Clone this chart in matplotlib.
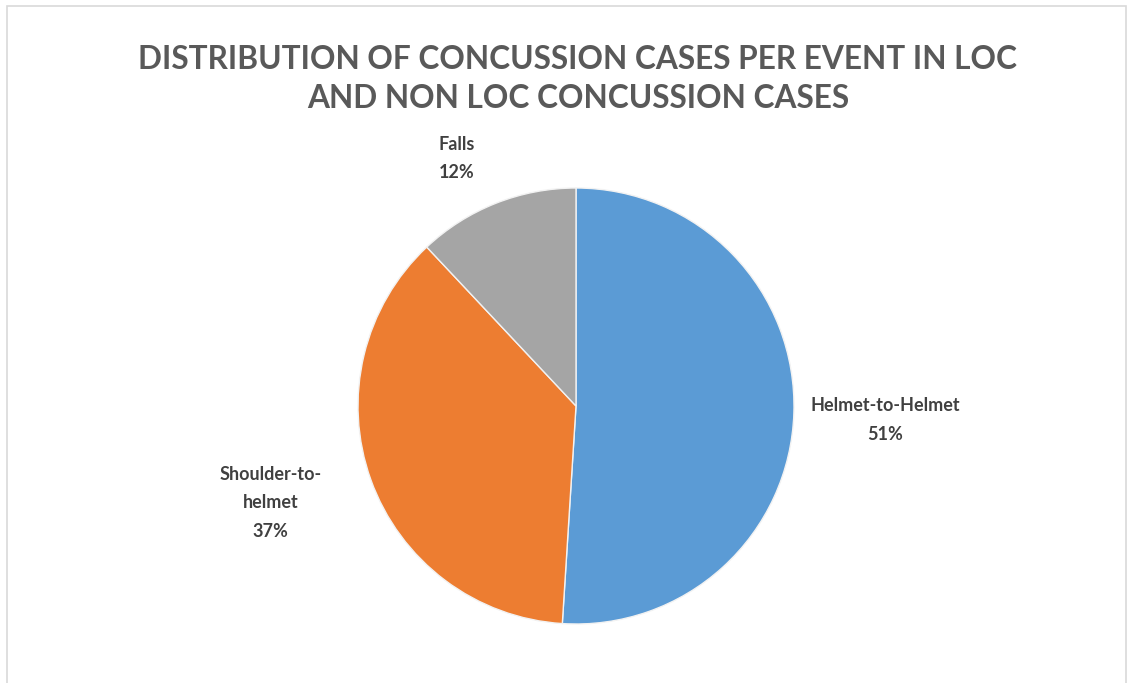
import matplotlib

matplotlib.use("Agg")

import matplotlib.patches as mpatches
import matplotlib.pyplot as plt
import numpy as np

# Share of concussion cases per event type (%)
categories = ["Helmet-to-Helmet", "Shoulder-to-\nhelmet", "Falls"]
shares = [51, 37, 12]
colors = ["#5B9BD5", "#ED7D31", "#A5A5A5"]
# radial distance of each data label (in pie radii) and a small angular nudge (deg)
label_dist = [1.42, 1.47, 1.26]
label_nudge = [-0.8, -2.2, 4.2]

W, H = 1129, 683
fig = plt.figure(figsize=(W / 100, H / 100), dpi=100, facecolor="white")

# chart border
fig.add_artist(mpatches.Rectangle((7 / W, -0.02), (1126 - 7) / W, 1 - 6 / H + 0.02,
                                  transform=fig.transFigure, facecolor="none",
                                  edgecolor="#D9D9D9", lw=1.2))

fig.text(578 / W, 1 - 79 / H, "DISTRIBUTION OF CONCUSSION CASES PER EVENT IN LOC\nAND NON LOC CONCUSSION CASES",
         ha="center", va="center", fontsize=22.8, fontweight="bold", color="#595959",
         family="Lato", linespacing=1.45)

cx, cy, r = 576, 406, 218
ax = fig.add_axes([(cx - r) / W, (H - cy - r) / H, 2 * r / W, 2 * r / H])
wedges, _ = ax.pie(shares, colors=colors, startangle=90, counterclock=False,
                   radius=1.0, wedgeprops=dict(edgecolor="#F2F2F2", linewidth=1.0))
ax.set_xlim(-1, 1)
ax.set_ylim(-1, 1)
ax.set_aspect("equal")
ax.axis("off")

for w, name, val, d, nudge in zip(wedges, categories, shares, label_dist, label_nudge):
    mid = np.deg2rad((w.theta1 + w.theta2) / 2 + nudge)
    ax.text(d * np.cos(mid), d * np.sin(mid), f"{name}\n{val}%",
            ha="center", va="center", fontsize=13, fontweight="bold",
            color="#404040", family="Lato", linespacing=1.8)

fig.savefig("out.png", dpi=100)
